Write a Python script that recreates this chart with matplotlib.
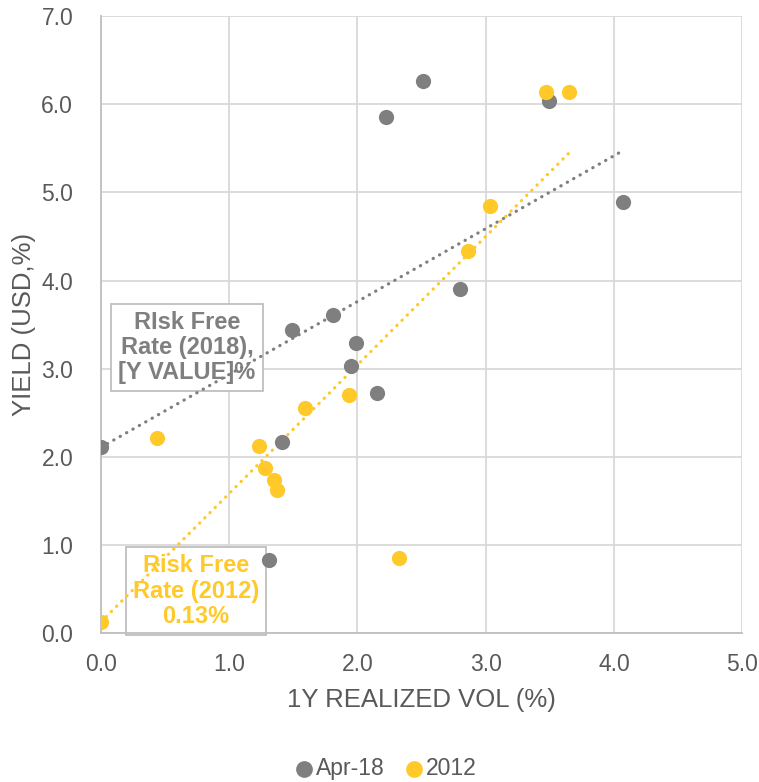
import matplotlib.pyplot as plt
import numpy as np

plt.rcParams['font.family'] = ['Liberation Sans', 'DejaVu Sans']

# Apr-18 series
vol_2018 = [0.00, 1.49, 1.81, 1.99, 1.95, 2.15, 1.41, 1.31, 2.51, 2.22, 3.49, 4.07, 2.80]
yield_2018 = [2.11, 3.44, 3.61, 3.29, 3.03, 2.73, 2.17, 0.83, 6.26, 5.85, 6.04, 4.89, 3.91]

# 2012 series
vol_2012 = [0.00, 0.44, 1.23, 1.28, 1.35, 1.37, 1.59, 1.93, 2.32, 2.86, 3.03, 3.47, 3.65]
yield_2012 = [0.13, 2.22, 2.12, 1.87, 1.74, 1.63, 2.56, 2.70, 0.86, 4.34, 4.85, 6.14, 6.14]

x_ticks = [0, 1, 2, 3, 4, 5]
y_ticks = [0, 1, 2, 3, 4, 5, 6, 7]

gray = '#7F7F7F'
gold = '#FFC929'
grid_c = '#D9D9D9'
text_c = '#595959'


def fixed_intercept_fit(xs, ys):
    # trendline with intercept set to the risk free rate (value at zero vol)
    xs = np.asarray(xs)
    ys = np.asarray(ys)
    icpt = ys[xs == 0][0]
    slope = np.sum(xs * (ys - icpt)) / np.sum(xs ** 2)
    return slope, icpt


fig = plt.figure(figsize=(7.59, 7.82), dpi=100)
ax = fig.add_axes([0.133, 0.19, 0.845, 0.7895])

for xs, ys, c in [(vol_2018, yield_2018, gray), (vol_2012, yield_2012, gold)]:
    slope, icpt = fixed_intercept_fit(xs, ys)
    xl = np.array([min(xs), max(xs)])
    ax.plot(xl, slope * xl + icpt, color=c, lw=2.3, linestyle=(0, (0.1, 2.2)),
            dash_capstyle='round', zorder=2)

ax.scatter(vol_2018, yield_2018, s=120, color=gray, label='Apr-18', zorder=3, linewidths=0)
ax.scatter(vol_2012, yield_2012, s=120, color=gold, label='2012', zorder=3, linewidths=0)

ax.set_xlim(0, 5)
ax.set_ylim(0, 7)
ax.set_xticks(x_ticks)
ax.set_yticks(y_ticks)
ax.set_xticklabels([f'{v:.1f}' for v in x_ticks])
ax.set_yticklabels([f'{v:.1f}' for v in y_ticks])
ax.tick_params(length=0, labelsize=16.5, colors=text_c)
ax.tick_params(axis='y', pad=20)
ax.tick_params(axis='x', pad=14)
ax.grid(True, color=grid_c, lw=1.3)
ax.set_axisbelow(True)
for s in ['top', 'right']:
    ax.spines[s].set_visible(False)
for s in ['left', 'bottom']:
    ax.spines[s].set_color('#BFBFBF')
    ax.spines[s].set_linewidth(1.3)

ax.set_xlabel('1Y REALIZED VOL (%)', fontsize=18.5, color=text_c, labelpad=9)
ax.set_ylabel('YIELD (USD,%)', fontsize=18.5, color=text_c, labelpad=4)

ax.text(0.67, 3.24, 'RIsk Free\nRate (2018),\n[Y VALUE]%', ha='center', va='center',
        fontsize=17, fontweight='bold', color=gray, linespacing=1.12,
        bbox=dict(boxstyle='square,pad=0.3', fc='white', ec='#BFBFBF', lw=1.3), zorder=1)
ax.text(0.74, 0.48, 'Risk Free\nRate (2012)\n0.13%', ha='center', va='center',
        fontsize=17, fontweight='bold', color=gold, linespacing=1.12,
        bbox=dict(boxstyle='square,pad=0.3', fc='white', ec='#BFBFBF', lw=1.3), zorder=1)

fig.legend(loc='center', bbox_to_anchor=(0.508, 0.017), ncol=2, frameon=False,
           fontsize=16.5, handlelength=0.8, handletextpad=0.1, columnspacing=0.9,
           markerscale=1.1, labelcolor=text_c)

fig.savefig('out.png', dpi=100)
